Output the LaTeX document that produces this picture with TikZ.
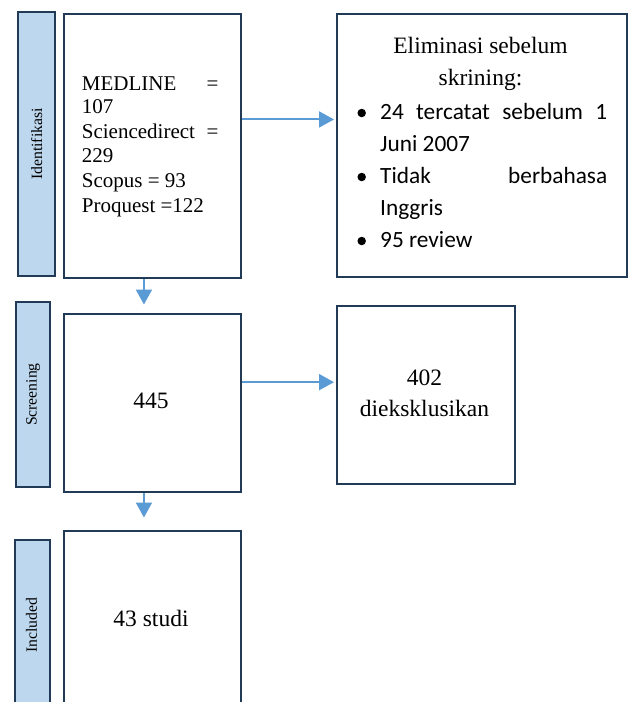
\documentclass[tikz,border=0pt]{standalone}
\usepackage{fontspec}
\setmainfont{Liberation Serif}
\newfontfamily\calibri{Carlito}
\usetikzlibrary{arrows.meta}
\definecolor{navy}{HTML}{213B57}
\definecolor{barfill}{HTML}{BDD7EE}
\definecolor{arrowblue}{HTML}{5B9BD5}
\tikzset{
 box/.style={draw=navy, line width=2.9pt, fill=white, inner sep=0pt, anchor=north west},
 bar/.style={draw=navy, line width=2.2pt, fill=barfill, inner sep=0pt, anchor=north west},
 barlabel/.style={rotate=90, font=\fontsize{15.7}{18}\selectfont, inner sep=0pt},
 arr/.style={draw=arrowblue, line width=2pt, -{Triangle[width=16pt,length=15pt]}},
 tms/.style={font=\fontsize{21}{24.6}\selectfont, inner sep=0pt, anchor=base west},
 tmsbig/.style={font=\fontsize{23.5}{30}\selectfont, inner sep=0pt, anchor=base},
 cal/.style={font=\calibri\fontsize{23.3}{30}\selectfont, inner sep=0pt, anchor=base west},
 bullet/.style={circle, fill=black, inner sep=0pt, minimum size=8.5pt},
}
\begin{document}
\begin{tikzpicture}[x=1pt,y=-1pt]
\useasboundingbox (0,0) rectangle (628,702);
\clip (0,0) rectangle (628,702);

% side bars
\node[bar, minimum width=37pt, minimum height=264pt] (bar1) at (17,11) {};
\node[bar, minimum width=34pt, minimum height=185pt] (bar2) at (15,301) {};
\node[bar, minimum width=35pt, minimum height=200pt] (bar3) at (14,539) {};
\node[barlabel] (lab1) at (bar1.center) {Identifikasi};
\node[barlabel] (lab2) at (bar2.center) {Screening};
\node[barlabel] (lab3) at (31.5,625) {Included};

% main boxes
\node[box, minimum width=177pt, minimum height=264pt] (box1) at (62.5,12.5) {};
\node[box, minimum width=177pt, minimum height=178pt] (box2) at (62.5,312.5) {};
\node[box, minimum width=177pt, minimum height=200pt] (box3) at (62.5,529.5) {};
\node[box, minimum width=290pt, minimum height=263pt] (elim) at (335.5,12.5) {};
\node[box, minimum width=178pt, minimum height=178pt] (excl) at (335.5,304.5) {};

% box1 text
\node[tms] (m1) at (81.7,90) {\makebox[136.6pt][s]{MEDLINE =}};
\node[tms] (m2) at (81.7,113.3) {107};
\node[tms] (m3) at (81.7,138.3) {\makebox[136.6pt][s]{Sciencedirect =}};
\node[tms] (m4) at (81.7,162.7) {229};
\node[tms] (m5) at (81.7,187.7) {Scopus = 93};
\node[tms] (m6) at (81.7,212.3) {Proquest =122};

% elim text
\node[tmsbig] (t1) at (480.5,53) {Eliminasi sebelum};
\node[tmsbig] (t2) at (480.5,85) {skrining:};
\node[bullet] (b1) at (361.7,113) {};
\node[bullet] (b2) at (361.7,177) {};
\node[bullet] (b3) at (361.7,241) {};
\node[cal] (l1) at (380,119) {\makebox[227pt][s]{24 tercatat sebelum 1}};
\node[cal] (l2) at (380,151) {Juni 2007};
\node[cal] (l3) at (380,183) {\makebox[227pt][s]{Tidak berbahasa}};
\node[cal] (l4) at (380,215) {Inggris};
\node[cal] (l5) at (380,247) {95 review};

% other texts
\node[tmsbig] (n445) at (151,408) {445};
\node[tmsbig] (n43) at (151,626) {43 studi};
\node[tmsbig] (n402) at (424.5,385) {402};
\node[tmsbig] (ndiek) at (424.5,416) {dieksklusikan};

% arrows
\coordinate (d1) at ([xshift=-8.5pt]box1.south);
\draw[arr, shorten >=8pt] (d1) -- (d1 |- box2.north);
\coordinate (d2) at ([xshift=-8.5pt]box2.south);
\draw[arr, shorten >=12pt] (d2) -- (d2 |- box3.north);
\coordinate (r1) at ([yshift=26.5pt]box1.east);
\draw[arr, shorten >=1.5pt] (r1) -- (r1 -| elim.west);
\coordinate (r2) at ([yshift=20.8pt]box2.east);
\draw[arr, shorten >=1.5pt] (r2) -- (r2 -| excl.west);
\end{tikzpicture}
\end{document}
